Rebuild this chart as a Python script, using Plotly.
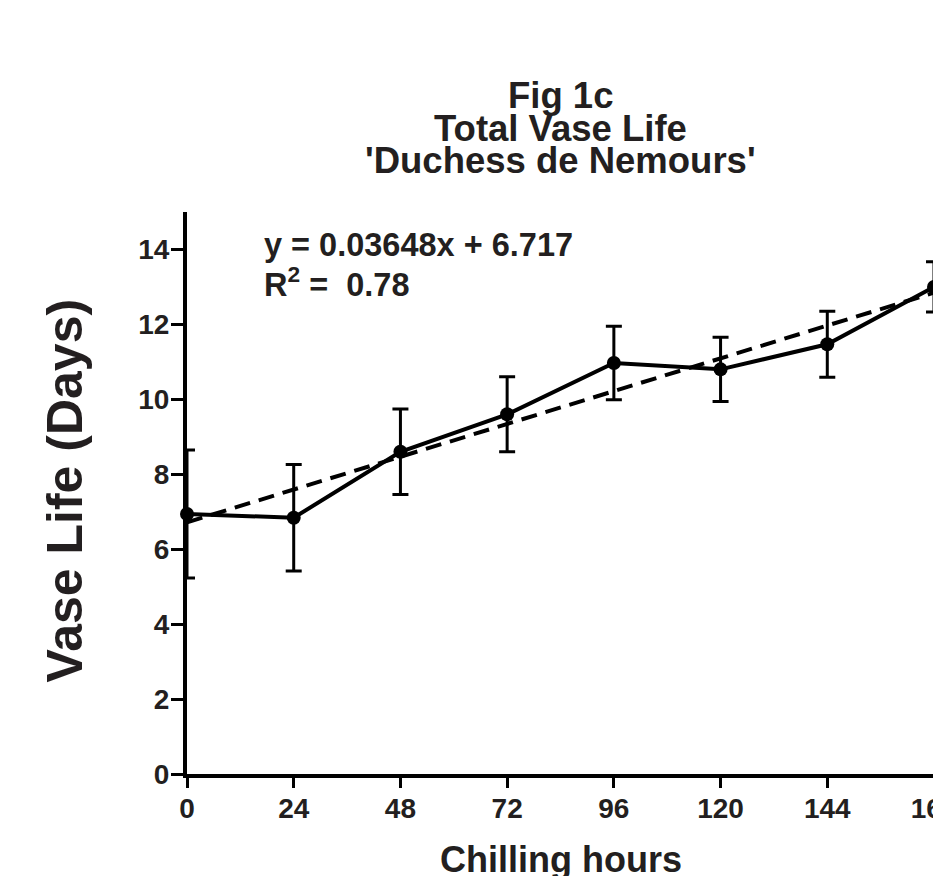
import plotly.graph_objects as go

chill_hours = [0, 24, 48, 72, 96, 120, 144, 168]
vase_life = [6.94, 6.84, 8.60, 9.60, 10.97, 10.80, 11.47, 13.00]
vase_err = [1.71, 1.42, 1.14, 1.00, 0.98, 0.86, 0.88, 0.67]
fit_slope = 0.03648
fit_intercept = 6.717
fit_x = [0, 168]
x_ticks = [0, 24, 48, 72, 96, 120, 144, 168]
y_ticks = [0, 2, 4, 6, 8, 10, 12, 14]
title_lines = ["Fig 1c", "Total Vase Life", "'Duchess de Nemours'"]

FONT = "Arial, Liberation Sans, Helvetica, sans-serif"
INK = "#231f20"

fig = go.Figure()

fig.add_trace(go.Scatter(
    x=fit_x,
    y=[fit_slope * v + fit_intercept for v in fit_x],
    mode="lines",
    line=dict(color="black", width=4, dash="16px,9px"),
    hoverinfo="skip",
    cliponaxis=False,
))

fig.add_trace(go.Scatter(
    x=chill_hours,
    y=vase_life,
    mode="lines+markers",
    line=dict(color="black", width=4),
    marker=dict(color="black", size=14, symbol="circle"),
    error_y=dict(type="data", array=vase_err, visible=True,
                 color="black", thickness=3, width=8),
    cliponaxis=False,
))

# equation text
fig.add_annotation(
    x=16.9, y=14.13, xref="x", yref="y", xanchor="left", yanchor="middle",
    text="y = 0.03648x + 6.717", showarrow=False,
    font=dict(family=FONT, size=32.5, color=INK, weight="bold"),
)
fig.add_annotation(
    x=16.9, y=13.13, xref="x", yref="y", xanchor="left", yanchor="middle",
    text="R<sup>2</sup> =  0.78", showarrow=False,
    font=dict(family=FONT, size=32.5, color=INK, weight="bold"),
)

# title lines
for txt, ypos in zip(title_lines, [1.2077, 1.149, 1.0921]):
    fig.add_annotation(
        x=0.5, y=ypos, xref="paper", yref="paper",
        xanchor="center", yanchor="middle", text=txt, showarrow=False,
        font=dict(family=FONT, size=36.5, color=INK, weight="bold"),
    )

# axis titles
fig.add_annotation(
    x=-0.163, y=0.505, xref="paper", yref="paper", xanchor="center",
    yanchor="middle", text="Vase Life (Days)", textangle=-90, showarrow=False,
    font=dict(family=FONT, size=50, color=INK, weight="bold"),
)
fig.add_annotation(
    x=0.5, y=-0.152, xref="paper", yref="paper", xanchor="center",
    yanchor="middle", text="Chilling hours", showarrow=False,
    font=dict(family=FONT, size=36, color=INK, weight="bold"),
)

fig.update_layout(
    width=933, height=868,
    margin=dict(l=179, r=7, t=204, b=102, pad=0, autoexpand=False),
    paper_bgcolor="white", plot_bgcolor="white",
    showlegend=False,
    font=dict(family=FONT, color=INK),
)

fig.update_xaxes(
    range=[0, 168], tickmode="array", tickvals=x_ticks,
    ticktext=[str(v) for v in x_ticks],
    showline=True, linecolor="black", linewidth=4,
    ticks="outside", ticklen=10, tickwidth=3, tickcolor="black",
    showgrid=False, zeroline=False, ticklabeloverflow="allow",
    ticklabelstandoff=-4, automargin=False,
    tickfont=dict(family=FONT, size=28, color=INK, weight="bold"),
)
fig.update_yaxes(
    range=[0, 15], tickmode="array", tickvals=y_ticks,
    ticktext=[str(v) for v in y_ticks],
    showline=True, linecolor="black", linewidth=4,
    ticks="outside", ticklen=12, tickwidth=3, tickcolor="black",
    showgrid=False, zeroline=False, ticklabelstandoff=-4, automargin=False,
    tickfont=dict(family=FONT, size=28, color=INK, weight="bold"),
)

fig.write_html("out.html")
